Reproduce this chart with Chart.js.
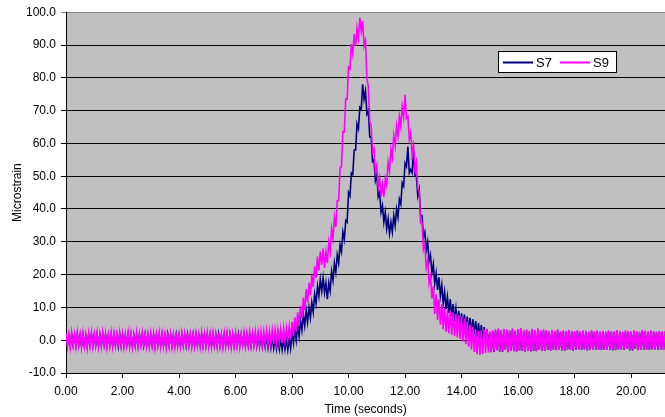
<!DOCTYPE html>
<html>
<head>
<meta charset="utf-8">
<script src="https://cdn.jsdelivr.net/npm/chart.js@4"></script>
<style>
  html, body { margin: 0; padding: 0; background: #ffffff; }
  #wrap { width: 665px; height: 417px; }
</style>
</head>
<body>
<div id="wrap"><canvas id="strainChart" width="665" height="417"></canvas></div>
<script>
// sample spacing of the logged strain (seconds)
const sampleStep = 0.05;

const seriesNames = ["S7", "S9"];
const seriesColors = ["#000080", "#ff00ff"];

// S7 gauge, one row per second (20 samples a row)
const s7Values = [
  1.6,-1.5,1.4,-1.7,1.7,-1.3,1.5,-1.6,1.8,-1.4,1.5,-1.7,1.6,-1.5,1.3,-1.8,1.6,-1.4,1.7,-1.6,
  1.5,-1.4,1.7,-1.6,1.4,-1.5,1.8,-1.3,1.6,-1.7,1.4,-1.5,1.7,-1.6,1.6,-1.4,1.5,-1.8,1.7,-1.5,
  1.6,-1.6,1.4,-1.4,1.8,-1.5,1.6,-1.7,1.4,-1.5,1.7,-1.6,1.5,-1.3,1.7,-1.6,1.8,-1.5,1.4,-1.6,
  1.7,-1.5,1.6,-1.8,1.5,-1.4,1.7,-1.6,1.6,-1.5,1.4,-1.7,1.8,-1.5,1.6,-1.6,1.4,-1.6,1.7,-1.5,
  1.4,-1.6,1.7,-1.4,1.6,-1.7,1.7,-1.5,1.5,-1.6,1.8,-1.5,1.6,-1.4,1.4,-1.6,1.7,-1.6,1.6,-1.5,
  1.7,-1.5,1.5,-1.6,1.7,-1.4,1.6,-1.6,1.8,-1.5,1.4,-1.7,1.6,-1.5,1.7,-1.4,1.6,-1.6,1.5,-1.5,
  1.7,-1.5,1.8,-1.6,1.5,-1.4,1.7,-1.6,1.6,-1.5,1.8,-1.6,1.6,-1.4,1.7,-1.7,1.5,-1.8,1.4,-1.9,
  1.3,-2.0,1.2,-2.2,1.1,-2.3,0.9,-2.4,0.8,-2.6,0.6,-2.7,0.5,-2.9,0.4,-2.8,0.3,-3.0,0.7,-2.5,
  2.8,-0.8,3.6,0.0,4.5,1.2,6.0,3.0,7.8,4.4,9.0,5.5,10.0,6.8,11.5,8.5,14.0,11.2,16.5,13.5,
  18.5,15.0,19.0,14.5,17.5,12.5,17.5,15.0,21.0,18.2,23.5,20.7,26.0,23.5,29.0,27.0,33.0,30.7,36.5,36.0,
  45.0,44.0,51.0,50.5,58.0,58.0,66.0,64.5,71.0,70.5,78.0,73.5,76.0,69.0,70.0,62.0,62.0,54.5,55.0,48.7,
  50.5,43.7,45.0,39.0,41.0,36.0,39.0,34.0,37.0,32.5,36.0,33.0,38.0,35.0,40.0,37.5,43.0,41.5,48.0,47.0,
  54.0,53.0,59.0,51.0,52.0,51.0,58.0,50.0,50.0,44.0,46.0,38.0,38.0,31.5,33.0,27.5,30.0,24.0,26.0,20.5,
  23.2,17.3,20.4,15.3,19.2,13.6,16.8,11.3,14.7,9.5,13.2,8.3,12.5,7.3,11.0,5.9,9.7,4.8,8.9,4.1,
  8.2,3.6,7.8,3.1,7.2,2.6,6.8,2.2,6.4,1.7,5.8,1.1,5.2,0.5,4.6,-0.1,4.0,-0.7,3.4,-1.3,
  2.3,-3.5,2.6,-3.6,2.9,-3.0,3.1,-3.4,2.8,-3.5,3.0,-2.9,2.9,-3.6,2.7,-3.1,3.1,-3.3,2.6,-3.4,
  3.0,-3.1,3.2,-3.2,2.7,-3.5,2.9,-3.2,2.5,-3.4,3.0,-3.3,2.8,-3.3,3.1,-3.0,2.6,-3.2,2.9,-3.1,
  2.7,-3.0,2.4,-3.1,2.8,-2.9,2.5,-3.0,2.9,-2.8,2.3,-3.1,2.6,-3.2,2.4,-2.9,2.8,-2.8,2.5,-3.2,
  2.4,-2.9,2.7,-2.9,2.3,-3.0,2.6,-2.8,2.5,-3.1,2.2,-2.9,2.7,-2.8,2.4,-2.9,2.6,-2.9,2.3,-3.0,
  2.5,-2.9,2.2,-2.9,2.6,-2.9,2.4,-3.1,2.3,-3.0,2.7,-2.8,2.4,-2.8,2.2,-3.0,2.6,-2.7,2.5,-3.1,
  2.3,-3.1,2.6,-2.7,2.4,-3.0,2.2,-2.9,2.7,-2.9,2.5,-2.9,2.3,-3.0,2.6,-2.8,2.4,-2.8,2.2,-2.9,
  2.5,-2.9,2.3,-2.9,2.4
];

// S9 gauge, one row per second (20 samples a row)
const s9Values = [
  2.1,-1.8,1.7,-2.2,2.3,-1.6,1.9,-2.0,2.4,-1.7,1.8,-2.1,2.2,-1.9,1.6,-2.3,2.0,-1.8,2.3,-2.0,
  1.9,-1.7,2.2,-2.1,1.8,-1.9,2.4,-1.6,2.0,-2.2,1.7,-1.8,2.3,-2.0,2.1,-1.7,1.9,-2.3,2.2,-1.8,
  2.0,-2.1,1.8,-1.7,2.4,-1.9,2.1,-2.2,1.7,-1.8,2.3,-2.0,1.9,-1.6,2.2,-2.1,2.5,-1.9,1.8,-2.0,
  2.2,-1.8,2.0,-2.3,1.9,-1.7,2.3,-2.0,2.1,-1.9,1.8,-2.2,2.4,-1.8,2.0,-2.0,1.7,-2.1,2.3,-1.9,
  1.8,-2.0,2.2,-1.7,2.0,-2.2,2.3,-1.8,1.9,-2.0,2.4,-1.9,2.1,-1.7,1.8,-2.1,2.2,-2.0,2.0,-1.8,
  2.3,-1.9,1.9,-2.1,2.2,-1.7,2.0,-2.0,2.4,-1.8,1.8,-2.2,2.1,-1.9,2.3,-1.7,2.0,-2.1,1.9,-1.9,
  2.2,-1.8,2.4,-2.0,1.9,-1.6,2.3,-1.9,2.1,-1.7,2.5,-1.8,2.2,-1.5,2.6,-1.7,2.4,-1.4,2.7,-1.6,
  2.6,-1.3,2.9,-1.4,2.7,-1.1,3.0,-1.2,3.2,-0.9,3.1,-0.6,3.5,-0.8,3.7,-0.3,3.6,-0.1,4.2,0.3,
  5.5,1.2,7.0,2.7,8.5,4.5,10.5,6.7,13.0,9.2,15.5,11.5,17.5,13.7,20.0,16.2,22.5,19.0,25.5,21.3,
  27.0,23.0,28.0,22.0,27.0,23.5,30.0,27.0,34.0,31.0,37.5,34.5,42.5,42.5,52.5,53.0,63.5,63.5,73.5,73.5,
  83.3,82.7,90.3,87.2,93.3,89.7,95.3,92.2,98.3,94.2,97.3,89.7,91.3,79.7,77.3,66.7,65.3,57.2,58.3,51.2,
  53.3,46.7,49.3,43.7,47.3,43.7,49.3,47.2,54.3,51.7,58.3,55.7,62.3,59.2,65.3,62.2,68.3,65.2,71.3,68.2,
  74.8,67.7,68.3,61.2,63.3,56.7,59.3,52.2,54.3,46.2,45.3,35.7,35.8,27.7,29.3,22.2,24.3,17.2,19.3,12.7,
  16.5,8.0,14.0,6.2,12.5,4.7,11.0,3.3,9.8,2.5,9.3,2.1,8.9,1.6,8.4,1.2,8.0,0.8,7.6,0.4,
  7.2,-0.4,6.6,-1.2,5.7,-2.0,4.8,-2.8,4.0,-3.6,3.3,-4.3,2.9,-4.5,3.0,-4.2,3.3,-3.9,3.5,-3.7,
  2.7,-3.7,3.0,-3.4,3.3,-3.1,3.6,-3.6,3.2,-3.3,3.5,-3.0,3.3,-3.7,3.1,-3.2,3.6,-3.4,3.0,-3.5,
  3.4,-3.2,3.7,-3.0,3.1,-3.6,3.3,-3.3,2.9,-3.5,3.5,-3.1,3.2,-3.4,3.6,-2.9,3.0,-3.3,3.3,-3.2,
  3.1,-2.9,2.8,-3.2,3.2,-2.8,2.9,-3.1,3.3,-2.7,2.7,-3.0,3.0,-3.3,2.8,-2.8,3.2,-2.9,2.9,-3.1,
  2.8,-2.7,3.1,-3.0,2.7,-2.9,3.0,-2.6,2.9,-3.2,2.6,-2.8,3.1,-2.9,2.8,-2.7,3.0,-3.0,2.7,-2.8,
  2.9,-2.8,2.6,-3.0,3.0,-2.7,2.8,-2.9,2.7,-3.1,3.1,-2.6,2.8,-2.9,2.6,-2.8,3.0,-2.7,2.9,-3.0,
  2.7,-2.9,3.0,-2.6,2.8,-3.1,2.6,-2.8,3.1,-2.7,2.9,-3.0,2.7,-2.8,3.0,-2.6,2.8,-2.9,2.6,-2.7,
  2.9,-2.8,2.7,-3.0,2.8
];

const timeS = s7Values.map((_, i) => +(i * sampleStep).toFixed(2));

const xMin = 0, xMax = 21.2, xStep = 2;
const yMin = -10, yMax = 100, yStep = 10;

const toPoints = (vals) => vals.map((v, i) => ({ x: timeS[i], y: v }));

// grey plot area + boxed legend, drawn the old spreadsheet way
const plotDecor = {
  id: "plotDecor",
  beforeDraw(chart) {
    const { ctx, chartArea: a } = chart;
    ctx.save();
    ctx.fillStyle = "#c0c0c0";
    ctx.fillRect(a.left, a.top, a.right - a.left, a.bottom - a.top);
    ctx.restore();
  },
  afterDraw(chart) {
    const { ctx } = chart;
    const bx = 498.5, by = 51.5, bw = 118, bh = 21;
    ctx.save();
    ctx.fillStyle = "#ffffff";
    ctx.fillRect(bx, by, bw, bh);
    ctx.strokeStyle = "#000000";
    ctx.lineWidth = 1;
    ctx.strokeRect(bx, by, bw, bh);
    const ly = 62.5;
    const starts = [503, 560];
    ctx.font = "13px 'Liberation Sans', Arial, sans-serif";
    ctx.textBaseline = "middle";
    seriesNames.forEach((name, i) => {
      ctx.strokeStyle = seriesColors[i];
      ctx.lineWidth = 2;
      ctx.beginPath();
      ctx.moveTo(starts[i], ly);
      ctx.lineTo(starts[i] + 30, ly);
      ctx.stroke();
      ctx.fillStyle = "#000000";
      ctx.fillText(name, starts[i] + 33, ly + 0.5);
    });
    ctx.restore();
  },
};

const ctx = document.getElementById("strainChart").getContext("2d");

new Chart(ctx, {
  type: "line",
  data: {
    datasets: [
      {
        label: seriesNames[0],
        data: toPoints(s7Values),
        borderColor: seriesColors[0],
        borderWidth: 1.6,
        pointRadius: 0,
        tension: 0,
        order: 1,
      },
      {
        label: seriesNames[1],
        data: toPoints(s9Values),
        borderColor: seriesColors[1],
        borderWidth: 1.6,
        pointRadius: 0,
        tension: 0,
        order: 0,
      },
    ],
  },
  options: {
    responsive: false,
    animation: false,
    layout: { padding: { top: 12, right: 0, left: 0, bottom: 0 } },
    plugins: {
      legend: { display: false },
      tooltip: { enabled: false },
    },
    scales: {
      x: {
        type: "linear",
        min: xMin,
        max: xMax,
        ticks: {
          stepSize: xStep,
          includeBounds: false,
          maxRotation: 0,
          autoSkip: false,
          color: "#000",
          padding: 6,
          font: { family: "'Liberation Sans', Arial, sans-serif", size: 12 },
          callback: (v) => Number(v).toFixed(2),
        },
        grid: {
          drawOnChartArea: false,
          drawTicks: true,
          tickLength: 5,
          color: "#000",
        },
        border: { color: "#000", width: 1 },
        title: {
          display: true,
          text: "Time (seconds)",
          color: "#000",
          padding: { top: 0, bottom: 0 },
          font: { family: "'Liberation Sans', Arial, sans-serif", size: 12 },
        },
        afterFit: (scale) => { scale.height = 44; },
      },
      y: {
        min: yMin,
        max: yMax,
        ticks: {
          stepSize: yStep,
          color: "#000",
          padding: 5,
          font: { family: "'Liberation Sans', Arial, sans-serif", size: 12 },
          callback: (v) => Number(v).toFixed(1),
        },
        grid: {
          color: (c) => (c.tick && c.tick.value === yMax ? "#808080" : "#000"),
          lineWidth: 1,
          tickLength: 5,
        },
        border: { color: "#000", width: 1 },
        title: {
          display: true,
          text: "Microstrain",
          color: "#000",
          padding: { top: 10, bottom: 0 },
          font: { family: "'Liberation Sans', Arial, sans-serif", size: 12 },
        },
        afterFit: (scale) => { scale.width = 66; },
      },
    },
  },
  plugins: [plotDecor],
});
</script>
</body>
</html>
